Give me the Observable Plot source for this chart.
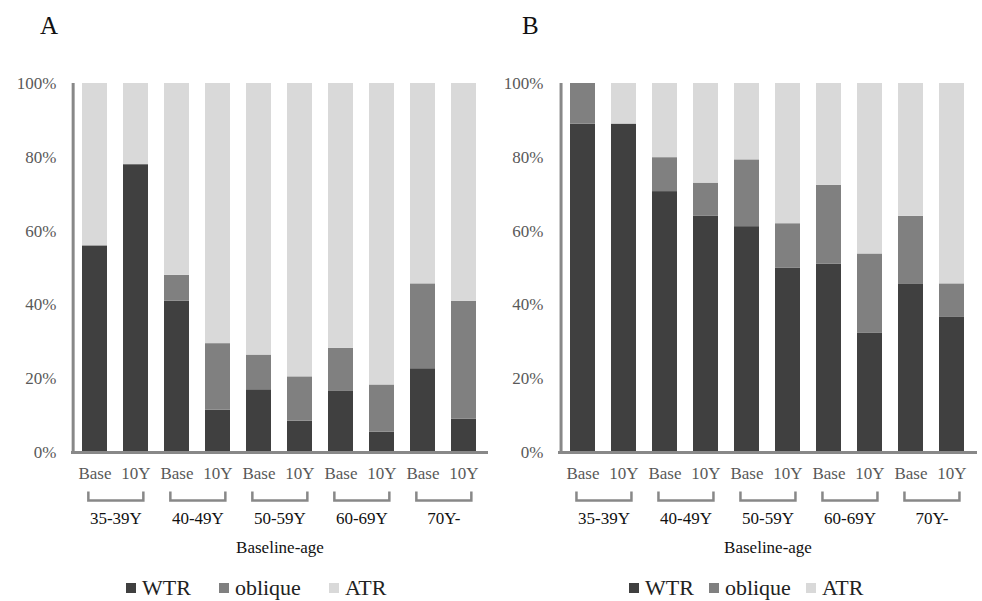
<!DOCTYPE html>
<html><head><meta charset="utf-8">
<script src="https://cdn.jsdelivr.net/npm/d3@7"></script>
<script src="https://cdn.jsdelivr.net/npm/@observablehq/plot@0.6"></script>
<style>
html,body{margin:0;padding:0;background:#fff;}
#root{position:relative;width:982px;height:601px;overflow:hidden;font-family:"Liberation Serif",serif;}
.title{position:absolute;top:13px;font-size:25px;line-height:25px;color:#111;font-family:"Liberation Serif",serif;}
.panel{position:absolute;top:50px;}
.panel svg, .panel svg text, .panel svg g {font-family:"Liberation Serif",serif !important;}
.legend{position:absolute;top:577px;display:flex;align-items:center;font-size:22px;line-height:22px;color:#222;white-space:nowrap;font-family:"Liberation Serif",serif;}
.sw{width:10px;height:10px;display:inline-block;margin-right:6px;}
</style></head>
<body><div id="root"></div>
<script>
const groups = ["35-39Y", "40-49Y", "50-59Y", "60-69Y", "70Y-"];
const periods = ["Base", "10Y"];
const types = ["WTR", "oblique", "ATR"];
const colors = ["#404040", "#808080", "#d9d9d9"];
const yTicks = [0, 20, 40, 60, 80, 100];
const xLabel = "Baseline-age";
const panelTitles = ["A", "B"];

// Panel A (percent per bar: Base, 10Y for each age group)
const A_WTR     = [56, 78, 41, 11.5, 17, 8.5, 16.7, 5.5, 22.7, 9];
const A_oblique = [0, 0, 7, 18, 9.4, 12, 11.5, 12.8, 23, 32];
const A_ATR     = [44, 22, 52, 70.5, 73.6, 79.5, 71.8, 81.7, 54.3, 59];

// Panel B
const B_WTR     = [89, 89, 70.7, 64, 61.2, 50, 51, 32.4, 45.7, 36.6];
const B_oblique = [11, 0, 9.2, 9, 18.1, 12, 21.4, 21.4, 18.3, 9.1];
const B_ATR     = [0, 11, 20.1, 27, 20.7, 38, 27.6, 46.2, 36, 54.3];

const bracket = {
  draw(ctx) {
    ctx.moveTo(-27.5, -9); ctx.lineTo(-27.5, 0); ctx.lineTo(27.5, 0); ctx.lineTo(27.5, -9);
  }
};

const SERIF = '"Liberation Serif", serif';

function build(series, opts) {
  const keys = groups.flatMap(g => periods.map(p => g + "|" + p));
  const rows = [];
  keys.forEach((k, i) => {
    types.forEach((t, j) => rows.push({key: k, type: t, value: series[j][i]}));
  });
  const W = 491, H = 530;
  const step = (W - opts.ml - opts.mr) / keys.length;
  return Plot.plot({
    width: W, height: H,
    marginLeft: opts.ml, marginRight: opts.mr, marginTop: 33, marginBottom: 128,
    style: {fontFamily: SERIF, fontSize: "17px", color: "#595959", background: "transparent", overflow: "visible"},
    x: {domain: keys, type: "band", paddingInner: 0.38, paddingOuter: 0.19, tickSize: 0, tickPadding: 14, tickFormat: d => d.split("|")[1], label: null},
    y: {domain: [0, 100], ticks: yTicks, tickFormat: d => d + "%", tickSize: 0, tickPadding: 15, label: null},
    color: {domain: types, range: colors},
    marks: [
      Plot.barY(rows, {x: "key", y: "value", fill: "type"}),
      Plot.ruleY([0], {stroke: "#888", strokeWidth: 3}),
      Plot.ruleX([keys[0]], {y1: 0, y2: 100, dx: -step / 2 - 1, stroke: "#888", strokeWidth: 3}),
      Plot.dot(groups, {x: g => g + "|Base", y: () => 0, dx: step / 2, dy: 48, symbol: bracket, fill: "none", stroke: "#888", strokeWidth: 2.5}),
      Plot.text(groups, {x: g => g + "|Base", y: () => 0, dx: step / 2, dy: 66, text: d => d, fill: "#111", fontSize: 17, fontFamily: SERIF}),
      Plot.text([xLabel], {frameAnchor: "bottom", dy: 100, text: d => d, fill: "#111", fontSize: 17, fontFamily: SERIF})
    ]
  });
}

const root = document.getElementById("root");
const panels = [
  {series: [A_WTR, A_oblique, A_ATR], ml: 71, mr: 3, left: 0, titleLeft: 40, legendLeft: 126, gap: 28},
  {series: [B_WTR, B_oblique, B_ATR], ml: 67, mr: 5, left: 491, titleLeft: 522, legendLeft: 629, gap: 15}
];
panels.forEach((p, idx) => {
  const t = document.createElement("div");
  t.className = "title"; t.style.left = p.titleLeft + "px"; t.textContent = panelTitles[idx];
  root.appendChild(t);
  const wrap = document.createElement("div");
  wrap.className = "panel"; wrap.style.left = p.left + "px";
  wrap.appendChild(build(p.series, p));
  root.appendChild(wrap);
  const lg = document.createElement("div");
  lg.className = "legend"; lg.style.left = p.legendLeft + "px"; lg.style.gap = p.gap + "px";
  types.forEach((ty, j) => {
    const item = document.createElement("span");
    item.style.display = "inline-flex"; item.style.alignItems = "center";
    const sw = document.createElement("span");
    sw.className = "sw"; sw.style.background = colors[j];
    item.appendChild(sw);
    item.appendChild(document.createTextNode(ty));
    lg.appendChild(item);
  });
  root.appendChild(lg);
});
</script>
</body></html>
